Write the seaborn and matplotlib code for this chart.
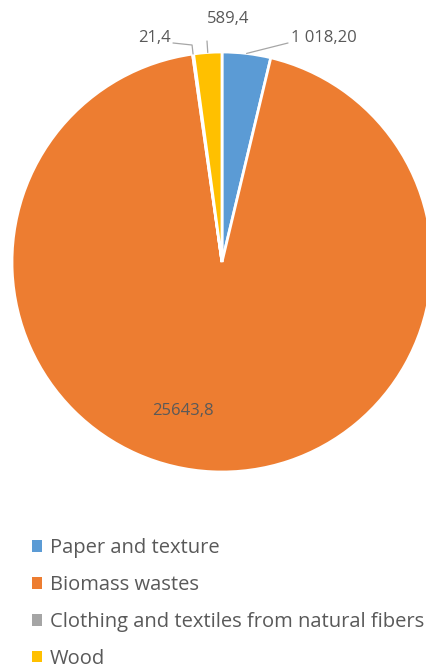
import matplotlib
matplotlib.use("Agg")
import matplotlib.pyplot as plt
import matplotlib.patches as mpatches
import seaborn as sns
import numpy as np

categories = ["Paper and texture", "Biomass wastes",
              "Clothing and textiles from natural fibers", "Wood"]
values = [1018.20, 25643.8, 21.4, 589.4]
value_labels = ["1 018,20", "25643,8", "21,4", "589,4"]
colors = ["#5B9BD5", "#ED7D31", "#A5A5A5", "#FFC000"]

sns.set_theme(style="white")
plt.rcParams['font.family'] = ['Open Sans', 'DejaVu Sans']

W, H = 427, 666
fig = plt.figure(figsize=(W / 100, H / 100), dpi=100)
ax = fig.add_axes([0, 0, 1, 1])

cx, cy, r = 222, H - 262, 210
wedges, _ = ax.pie(values, colors=colors, startangle=90, counterclock=False,
                   center=(cx, cy), radius=r,
                   wedgeprops=dict(edgecolor="white", linewidth=2))
ax.set_xlim(0, W)
ax.set_ylim(0, H)
ax.set_aspect("equal")
ax.axis("off")

txt_color = "#595959"
line_color = "#A6A6A6"
lab_fs = 12

def edge_point(w, frac=1.0):
    ang = np.deg2rad((w.theta1 + w.theta2) / 2)
    return cx + r * frac * np.cos(ang), cy + r * frac * np.sin(ang)

# Paper and texture label
px, py = edge_point(wedges[0])
ax.plot([px, 288], [py, H - 43], color=line_color, lw=0.9)
ax.text(291, H - 38, value_labels[0], color=txt_color, fontsize=lab_fs,
        ha="left", va="center")

# Biomass inside
ax.text(183, H - 411, value_labels[1], color=txt_color, fontsize=lab_fs,
        ha="center", va="center")

# Clothing
px, py = edge_point(wedges[2])
ax.plot([px, px - 1, 173], [py, H - 45, H - 43], color=line_color, lw=0.9)
ax.text(171, H - 38, value_labels[2], color=txt_color, fontsize=lab_fs,
        ha="right", va="center")

# Wood
px, py = edge_point(wedges[3])
ax.plot([px, 207], [py, H - 41], color=line_color, lw=0.9)
ax.text(228, H - 19, value_labels[3], color=txt_color, fontsize=lab_fs,
        ha="center", va="center")

handles = [mpatches.Patch(facecolor=c, edgecolor="none") for c in colors]
leg = fig.legend(handles, categories, loc="upper left",
                 bbox_to_anchor=(32 / W, 1 - 538 / H), frameon=False,
                 fontsize=14.5, labelcolor=txt_color, handlelength=0.52,
                 handleheight=0.52, handletextpad=0.35, labelspacing=0.84,
                 borderaxespad=0, borderpad=0)

fig.savefig("out.png", dpi=100)
